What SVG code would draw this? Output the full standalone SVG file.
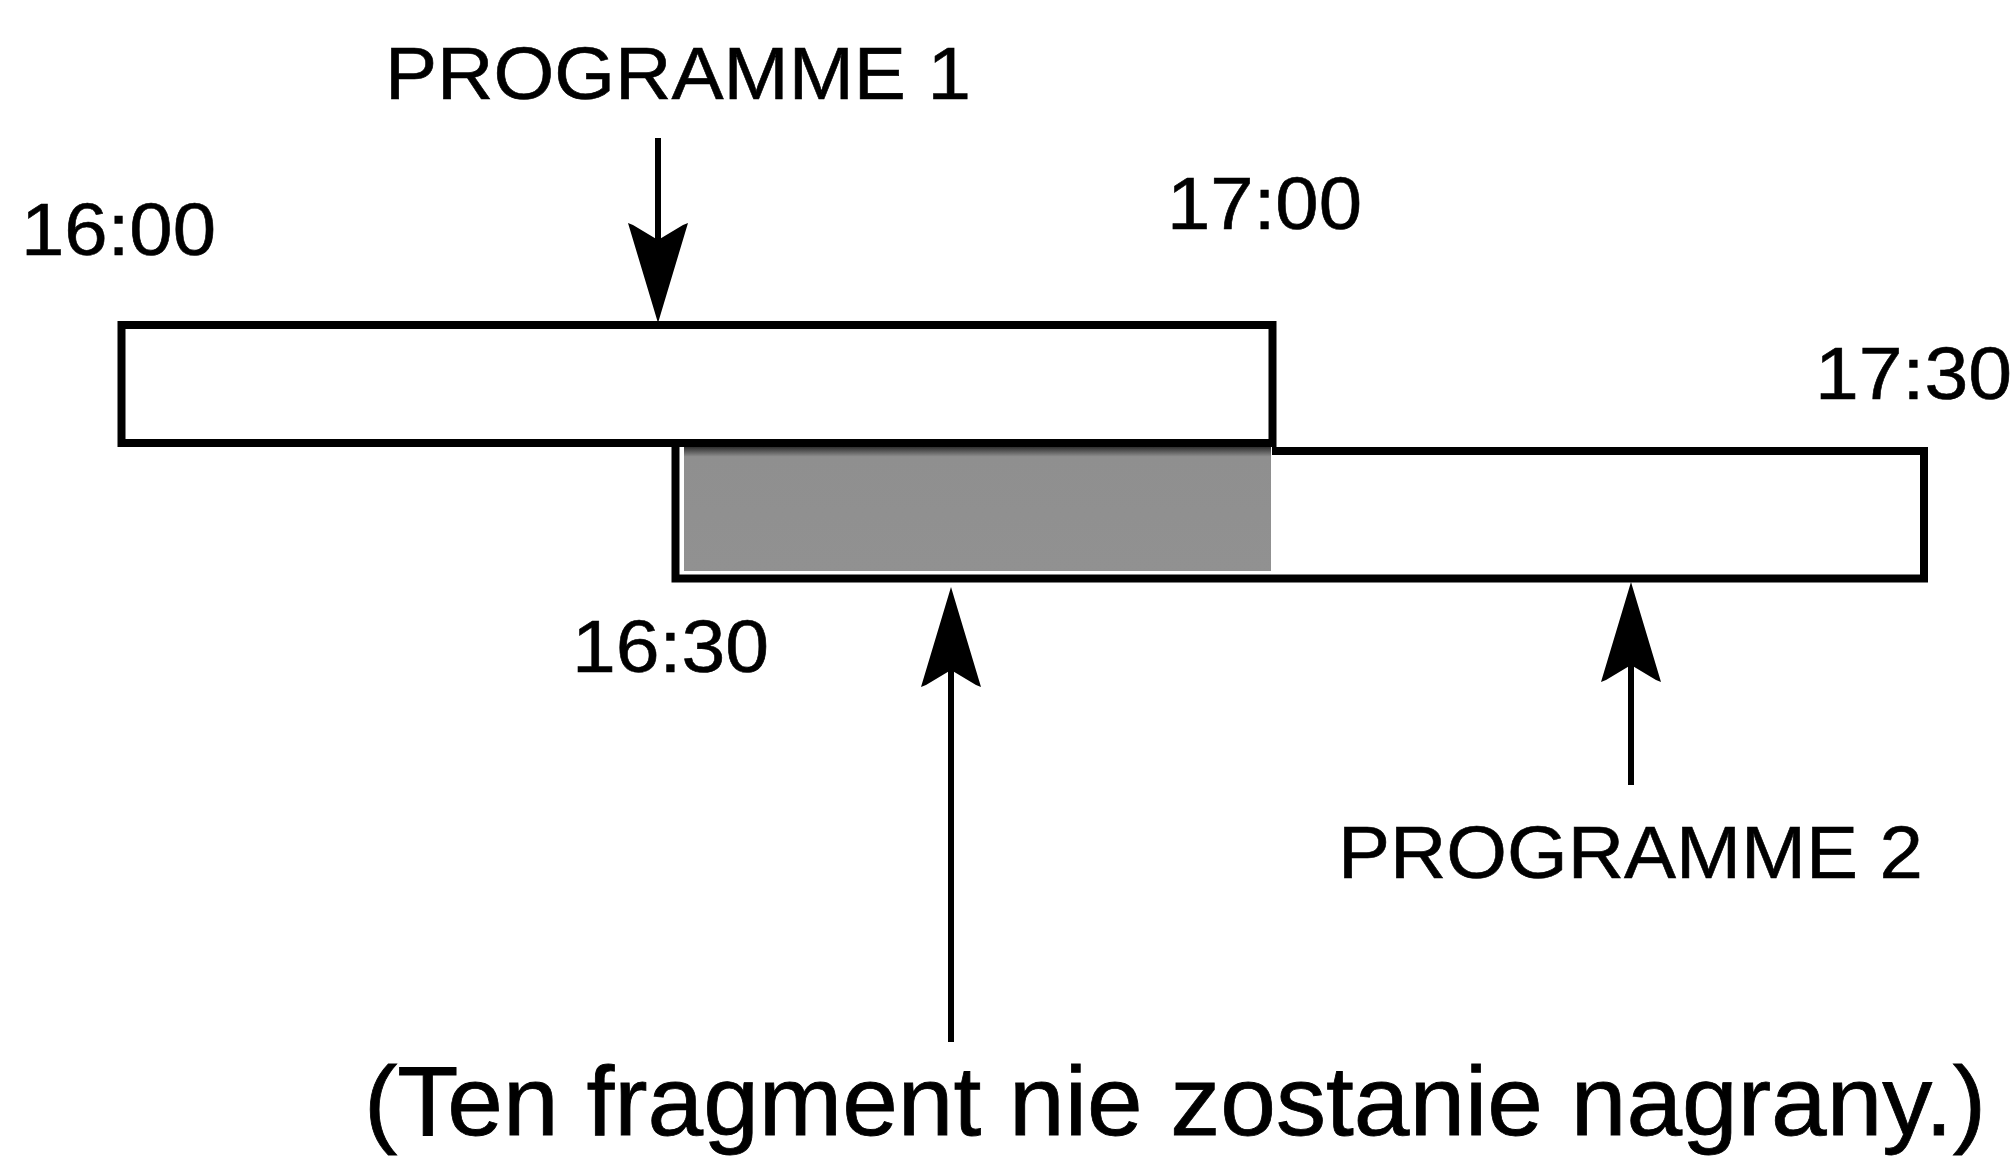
<svg xmlns="http://www.w3.org/2000/svg" width="2016" height="1161" viewBox="0 0 2016 1161">
<style>
  .lbl { font-family: "Liberation Sans", Arial, Helvetica, sans-serif; font-size: 75px; fill: #000; stroke: #000; stroke-width: 0.6; }
  .big { font-family: "Liberation Sans", Arial, Helvetica, sans-serif; font-size: 99px; fill: #000; stroke: #000; stroke-width: 0.8; }
  .box { fill: #fff; stroke: #000; stroke-width: 8; }
  .shaft { stroke: #000; stroke-width: 6; fill: none; marker-end: url(#ah); }
</style>
<defs>
  <marker id="ah" viewBox="-101 -31 102 62" refX="-83" refY="0" markerWidth="102" markerHeight="62" markerUnits="userSpaceOnUse" orient="auto">
    <path d="M0,0 L-100,-30 L-98,-25 L-83,0 L-98,25 L-100,30 Z" fill="#000"/>
  </marker>
  <linearGradient id="shade" x1="0" y1="0" x2="0" y2="1">
    <stop offset="0" stop-color="#111"/>
    <stop offset="0.1" stop-color="#8f8f8f"/>
    <stop offset="1" stop-color="#919191"/>
  </linearGradient>
</defs>
<rect width="2016" height="1161" fill="#fff"/>

<g id="programme2">
  <path class="box" d="M1272,451 H1924 V578.5 H675.5 V444"/>
  <rect x="684" y="444" width="587" height="127" fill="url(#shade)"/>
</g>

<g id="programme1">
  <rect class="box" x="121.5" y="325" width="1151" height="118"/>
</g>

<g id="labels">
  <text class="lbl" x="385" y="99" textLength="586" lengthAdjust="spacingAndGlyphs">PROGRAMME 1</text>
  <text class="lbl" x="21" y="255" textLength="195" lengthAdjust="spacingAndGlyphs">16:00</text>
  <text class="lbl" x="1167" y="229" textLength="195" lengthAdjust="spacingAndGlyphs">17:00</text>
  <text class="lbl" x="1815" y="399" textLength="197" lengthAdjust="spacingAndGlyphs">17:30</text>
  <text class="lbl" x="572" y="672" textLength="197" lengthAdjust="spacingAndGlyphs">16:30</text>
  <text class="lbl" x="1338" y="878" textLength="585" lengthAdjust="spacingAndGlyphs">PROGRAMME 2</text>
  <text class="big" x="364" y="1135" textLength="1622" lengthAdjust="spacingAndGlyphs">(Ten fragment nie zostanie nagrany.)</text>
</g>

<g id="connectors">
  <line class="shaft" x1="658" y1="138" x2="658" y2="240"/>
  <line class="shaft" x1="951" y1="1042" x2="951" y2="670"/>
  <line class="shaft" x1="1631" y1="785" x2="1631" y2="665"/>
</g>
</svg>
